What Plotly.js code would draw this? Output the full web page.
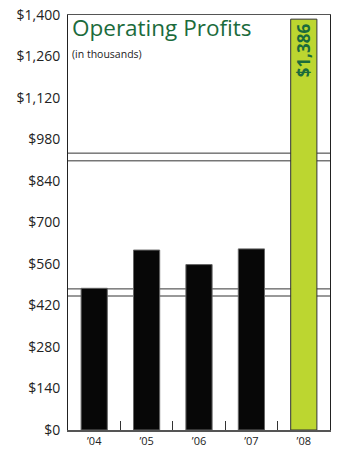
<!DOCTYPE html>
<html><head><meta charset="utf-8">
<script src="https://cdn.plot.ly/plotly-3.0.1.min.js"></script>
<style>html,body{margin:0;padding:0;background:#fff}#c{width:338px;height:450px}</style>
</head><body><div id="c"></div>
<script>
const years = ["’04", "’05", "’06", "’07", "’08"];
const profits = [478, 607, 558, 611, 1386];
const barColors = ["#070707", "#070707", "#070707", "#070707", "#bcd630"];
const yTicks = [0, 140, 280, 420, 560, 700, 840, 980, 1120, 1260, 1400];
const yTickText = ["$0", "$140", "$280", "$420", "$560", "$700", "$840", "$980", "$1,120", "$1,260", "$1,400"];
const breakLines = [934, 908, 476, 452];
const highlightLabel = "$1,386";

const shapes = breakLines.map(v => ({
  type: "line", xref: "paper", yref: "y", x0: 0, x1: 1, y0: v, y1: v,
  line: {color: "#333", width: 1}, layer: "below"
}));

const data = [{
  type: "bar", x: years, y: profits,
  marker: {color: barColors, line: {color: ["#666","#666","#666","#666","#333"], width: 1}},
  width: 0.5, hoverinfo: "none"
}];

const layout = {
  width: 338, height: 450,
  margin: {l: 68, r: 8, t: 15, b: 20},
  paper_bgcolor: "#fff", plot_bgcolor: "#fff",
  font: {family: "Open Sans, sans-serif", color: "#222"},
  showlegend: false,
  bargap: 0.5,
  xaxis: {
    type: "category", showgrid: false, zeroline: false,
    showline: true, linecolor: "#555", linewidth: 1.5, mirror: true,
    ticks: "inside", tickson: "boundaries", ticklen: 9, tickcolor: "#333", tickwidth: 1,
    tickfont: {size: 11, color: "#222"}, fixedrange: true
  },
  yaxis: {
    range: [0, 1400], tickmode: "array", tickvals: yTicks, ticktext: yTickText,
    showgrid: false, zeroline: false, showline: true, linecolor: "#222", linewidth: 1, mirror: true,
    ticks: "", ticklabelstandoff: 4, tickfont: {size: 14, color: "#222"}, fixedrange: true
  },
  shapes: shapes,
  annotations: [
    {xref: "paper", yref: "paper", x: 0.01, y: 1.01, xanchor: "left", yanchor: "top",
     text: "Operating Profits", showarrow: false, borderpad: 0, font: {size: 22.5, color: "#1b6b3c"}},
    {xref: "paper", yref: "paper", x: 0.01, y: 0.926, xanchor: "left", yanchor: "top",
     text: "(in thousands)", showarrow: false, borderpad: 0, font: {size: 10.5, color: "#222"}},
    {xref: "x", yref: "y", x: years[4], y: profits[4] - 8, xanchor: "center", yanchor: "top",
     text: "<b>" + highlightLabel + "</b>", textangle: -90, showarrow: false,
     font: {size: 17, color: "#1b6b3c"}}
  ]
};
Plotly.newPlot("c", data, layout, {displayModeBar: false, staticPlot: true});
</script></body></html>
